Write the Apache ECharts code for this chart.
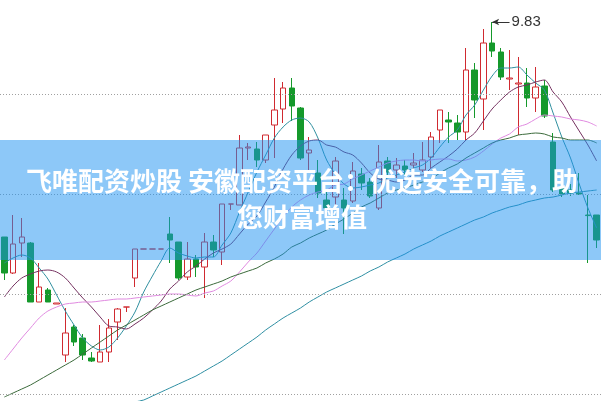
<!DOCTYPE html>
<html><head><meta charset="utf-8">
<script src="https://cdn.jsdelivr.net/npm/echarts@6/dist/echarts.min.js"></script>
<style>html,body{margin:0;padding:0;background:#fff}#c{width:601px;height:401px}</style>
</head><body><div id="c"></div>
<script>
// day index labels
const categories = Array.from({length: 69}, (_, i) => String(i + 1));
// [open, close, low, high]
const ohlc = [
[8.755,8.575,8.54,8.755],[8.575,8.72,8.57,8.865],[8.725,8.755,8.655,8.85],[8.725,8.43,8.43,8.73],
[8.43,8.505,8.43,8.625],[8.49,8.43,8.43,8.50],[8.42,8.425,8.42,8.425],[8.165,8.275,8.13,8.40],
[8.305,8.23,8.21,8.315],[8.25,8.165,8.14,8.27],[8.15,8.135,8.13,8.18],[8.13,8.18,8.13,8.315],
[8.18,8.30,8.13,8.345],[8.33,8.395,8.24,8.40],[8.405,8.405,8.38,8.405],[8.55,8.695,8.505,8.695],
[8.695,8.695,8.695,8.695],[8.695,8.695,8.695,8.695],[8.695,8.695,8.695,8.695],[8.77,8.74,8.625,8.855],
[8.73,8.55,8.54,8.73],[8.555,8.645,8.54,8.73],[8.645,8.605,8.555,8.665],[8.605,8.73,8.45,8.775],
[8.73,8.69,8.655,8.765],[8.68,8.92,8.615,8.92],[8.92,8.92,8.89,8.92],[8.915,9.20,8.915,9.265],
[9.20,9.205,9.14,9.225],[9.195,9.14,9.105,9.23],[9.14,9.265,9.125,9.265],[9.315,9.39,9.15,9.55],
[9.395,9.50,9.325,9.53],[9.50,9.41,9.335,9.55],[9.40,9.15,9.14,9.405],[9.175,9.19,9.09,9.255],
[9.075,8.975,8.95,9.14],[8.94,8.90,8.89,8.99],[8.955,9.135,8.905,9.155],[8.94,8.90,8.77,9.00],
[8.935,9.085,8.925,9.13],[9.07,9.025,8.99,9.10],[9.03,8.96,8.95,9.05],[8.90,9.13,8.89,9.215],
[9.135,9.08,9.065,9.155],[9.09,9.115,9.05,9.15],[9.11,9.09,9.065,9.14],[9.115,9.125,9.075,9.175],
[9.09,9.14,9.08,9.23],[9.155,9.255,9.10,9.28],[9.29,9.39,9.225,9.39],[9.34,9.33,9.225,9.38],
[9.325,9.28,9.24,9.365],[9.28,9.59,9.24,9.70],[9.59,9.44,9.35,9.625],[9.445,9.725,9.29,9.795],
[9.725,9.685,9.655,9.83],[9.68,9.555,9.54,9.70],[9.545,9.55,9.49,9.69],[9.52,9.525,9.265,9.655],
[9.525,9.45,9.405,9.60],[9.45,9.505,9.38,9.605],[9.51,9.36,9.35,9.54],[9.23,8.99,8.98,9.275],
[9.00,8.97,8.955,9.03],[8.99,8.975,8.96,9.02],[8.975,8.97,8.965,9.075],[8.865,8.862,8.625,8.965],
[8.865,8.74,8.70,8.865]
];
const ma5 = [8.625,8.65,8.665,8.65,8.60,8.545,8.465,8.385,8.315,8.25,8.21,8.19,8.205,8.25,8.31,8.38,8.48,8.56,8.635,8.70,
8.675,8.66,8.65,8.655,8.655,8.715,8.775,8.88,8.98,9.08,9.165,9.25,9.305,9.34,9.35,9.33,9.25,9.14,9.07,9.02,
9.00,9.005,9.015,9.025,9.05,9.065,9.08,9.10,9.115,9.15,9.205,9.255,9.29,9.365,9.415,9.49,9.56,9.60,9.60,9.605,
9.565,9.525,9.49,9.375,9.255,9.15,9.02,8.90,8.80];
const ma10 = [8.455,8.51,8.55,8.57,8.585,8.59,8.58,8.55,8.50,8.45,8.405,8.355,8.31,8.305,8.295,8.32,8.35,8.39,8.435,8.495,
8.535,8.58,8.61,8.645,8.675,8.695,8.72,8.77,8.82,8.86,8.93,9.005,9.095,9.165,9.21,9.235,9.24,9.215,9.205,9.18,
9.165,9.125,9.075,9.045,9.04,9.03,9.04,9.065,9.065,9.10,9.13,9.16,9.195,9.24,9.275,9.335,9.395,9.44,9.48,9.505,
9.515,9.53,9.54,9.48,9.43,9.355,9.285,9.215,9.135];
const ma20 = [8.14,8.195,8.25,8.30,8.35,8.385,8.405,8.42,8.425,8.43,8.43,8.435,8.44,8.445,8.445,8.45,8.455,8.46,8.465,8.47,
8.47,8.465,8.46,8.475,8.485,8.51,8.535,8.58,8.63,8.675,8.735,8.795,8.855,8.905,8.94,8.965,8.98,8.99,9.015,9.02,
9.045,9.065,9.085,9.105,9.125,9.135,9.14,9.14,9.135,9.14,9.145,9.145,9.135,9.14,9.155,9.185,9.22,9.25,9.27,9.305,
9.32,9.345,9.365,9.36,9.355,9.345,9.34,9.33,9.31];
const ma30 = [7.955,7.975,7.995,8.015,8.04,8.065,8.09,8.115,8.14,8.17,8.20,8.23,8.26,8.29,8.315,8.34,8.365,8.39,8.41,8.43,
8.45,8.47,8.49,8.505,8.52,8.535,8.555,8.57,8.585,8.60,8.625,8.645,8.67,8.705,8.725,8.75,8.77,8.79,8.82,8.845,
8.875,8.905,8.925,8.95,8.975,8.99,9.00,9.015,9.03,9.045,9.075,9.10,9.12,9.15,9.175,9.20,9.225,9.24,9.25,9.265,
9.27,9.275,9.27,9.255,9.25,9.24,9.24,9.24,9.225];
const ma60 = [null,null,null,null,null,null,null,null,null,null,7.84,7.86,7.88,7.90,7.915,7.93,7.94,7.96,7.98,8.00,
8.02,8.04,8.06,8.085,8.11,8.135,8.165,8.195,8.225,8.255,8.29,8.32,8.35,8.375,8.40,8.43,8.455,8.48,8.50,8.52,
8.54,8.56,8.585,8.605,8.63,8.65,8.67,8.695,8.715,8.735,8.76,8.78,8.80,8.82,8.84,8.855,8.875,8.89,8.905,8.915,
8.93,8.94,8.95,8.955,8.965,8.975,8.98,8.985,8.99];
const gridLevels = [9.475, 8.975, 8.475, 7.975];
const highPoint = {index: 56, value: 9.83, label: '9.83'};
const bannerText = '飞唯配资炒股 安徽配资平台：优选安全可靠，助\n您财富增值';

const chart = echarts.init(document.getElementById('c'), null, {renderer: 'canvas'});
function maSeries(name, data, color, z) {
  return {name, type: 'line', data, showSymbol: false, symbol: 'none', smooth: 0.3,
    lineStyle: {color, width: 1}, z, silent: true, connectNulls: false};
}
chart.setOption({
  animation: false,
  grid: {left: 0, right: 0, top: 0, bottom: 0},
  xAxis: {type: 'category', data: categories, show: false, boundaryGap: true},
  yAxis: {type: 'value', min: 7.935, max: 9.94, show: false, splitLine: {show: false}},
  series: [
    {type: 'line', data: [], z: 1, silent: true,
      markLine: {silent: true, symbol: ['none', 'none'], label: {show: false},
        lineStyle: {color: '#a0a0a0', width: 1, type: [1, 2]},
        data: gridLevels.map(v => ({yAxis: v}))}},
    {type: 'candlestick', data: ohlc, barWidth: 6, z: 2,
      itemStyle: {color: 'rgba(255,255,255,0)', color0: '#15992b', borderColor: '#d02a30', borderColor0: '#15992b', borderWidth: 1},
      markLine: {silent: true, symbol: ['arrow', 'none'], symbolSize: [5, 7],
        lineStyle: {color: '#333', width: 1, type: 'solid'},
        label: {show: true, position: 'end', formatter: highPoint.label, color: '#333', fontSize: 15, fontFamily: 'Liberation Sans, Arial, sans-serif', distance: 2},
        data: [[{coord: [highPoint.index, highPoint.value]}, {coord: [highPoint.index + 2, highPoint.value]}]]}},
    maSeries('MA5', ma5, '#2f8f9f', 3),
    maSeries('MA10', ma10, '#74305f', 3),
    maSeries('MA20', ma20, '#e08ae0', 3),
    maSeries('MA30', ma30, '#3b6a3b', 3),
    maSeries('MA60', ma60, '#2f8fa3', 3)
  ],
  graphic: [
    {type: 'rect', left: 0, top: 140, z: 100, silent: true,
      shape: {width: 601, height: 120}, style: {fill: 'rgba(28,146,242,0.5)'}},
    {type: 'text', x: 302, y: 199, z: 101, silent: true,
      style: {text: bannerText, fill: '#fff', font: 'bold 26px "Noto Sans CJK SC"',
        textAlign: 'center', align: 'center', textVerticalAlign: 'middle', verticalAlign: 'middle', lineHeight: 36}}
  ]
});
</script></body></html>
